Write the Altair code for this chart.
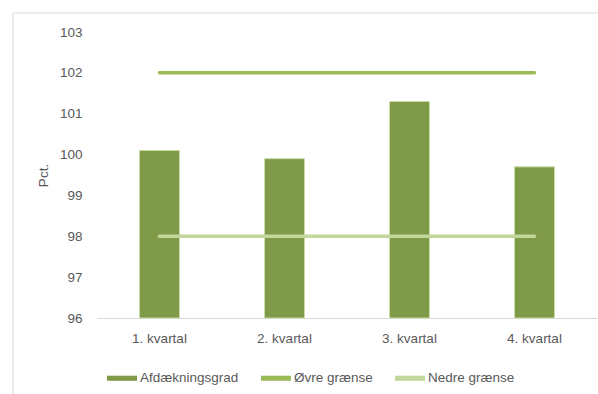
import altair as alt
import pandas as pd

quarters = ["1. kvartal", "2. kvartal", "3. kvartal", "4. kvartal"]
afdaekning = [100.1, 99.9, 101.3, 99.7]
oevre = [102, 102, 102, 102]
nedre = [98, 98, 98, 98]
series_names = ["Afdækningsgrad", "Øvre grænse", "Nedre grænse"]
series_colors = ["#7F9A48", "#9BBB59", "#C3D69B"]
y_ticks = [96, 97, 98, 99, 100, 101, 102, 103]
y_min, y_max = 96, 103

rows = []
for name, vals in zip(series_names, [afdaekning, oevre, nedre]):
    for q, v in zip(quarters, vals):
        rows.append({"kvartal": q, "serie": name, "value": v})
df = pd.DataFrame(rows)

FONT = "Liberation Sans"
FS = 13.5

x_enc = alt.X("kvartal:N", sort=quarters, title=None,
              scale=alt.Scale(paddingInner=0.68, paddingOuter=0.34),
              axis=alt.Axis(labelAngle=0, ticks=False, domainColor="#D9D9D9",
                            labelColor="#595959", labelFontSize=FS, labelFont=FONT,
                            labelPadding=13))
y_enc = alt.Y("value:Q", title="Pct.",
              scale=alt.Scale(domain=[y_min, y_max], nice=False, zero=False),
              axis=alt.Axis(values=y_ticks, grid=False, ticks=False, domain=False,
                            labelColor="#595959", labelFontSize=FS, labelFont=FONT,
                            labelPadding=15, titleFont=FONT, titleFontSize=FS,
                            titleFontWeight="normal", titleColor="#595959",
                            titlePadding=9))
color_enc = alt.Color("serie:N", scale=alt.Scale(domain=series_names, range=series_colors),
                      legend=alt.Legend(title=None, orient="none", direction="horizontal",
                                        legendX=10, legendY=331,
                                        symbolType="M-1,-0.17H1V0.17H-1Z",
                                        symbolSize=900, symbolStrokeWidth=0,
                                        labelFont=FONT, labelFontSize=FS,
                                        labelColor="#595959", labelOffset=3,
                                        columnPadding=22))

base = alt.Chart(df)

bars = base.transform_filter(alt.datum.serie == "Afdækningsgrad").mark_bar(
    stroke="#C9DDA6", strokeWidth=1
).encode(x=x_enc, y=y_enc, y2=alt.datum(y_min), color=color_enc)

lines = base.transform_filter(alt.datum.serie != "Afdækningsgrad").mark_line(
    strokeWidth=3.5, strokeCap="round"
).encode(x=x_enc, y=y_enc, color=color_enc, detail="serie:N")

frame = alt.Chart(pd.DataFrame({"a": [0]})).mark_rect(
    fill=None, stroke="#D9D9D9", strokeWidth=1, clip=False
).encode(x=alt.value(-84), x2=alt.value(560), y=alt.value(-19), y2=alt.value(420))

chart = alt.layer(frame, bars, lines).properties(
    width=500, height=286,
    background="white",
    autosize=alt.AutoSizeParams(type="none"),
    padding={"left": 97, "top": 32, "right": 1, "bottom": 76},
).configure_view(stroke=None)

chart.save("out.html", embed_options={"renderer": "svg", "actions": False})
